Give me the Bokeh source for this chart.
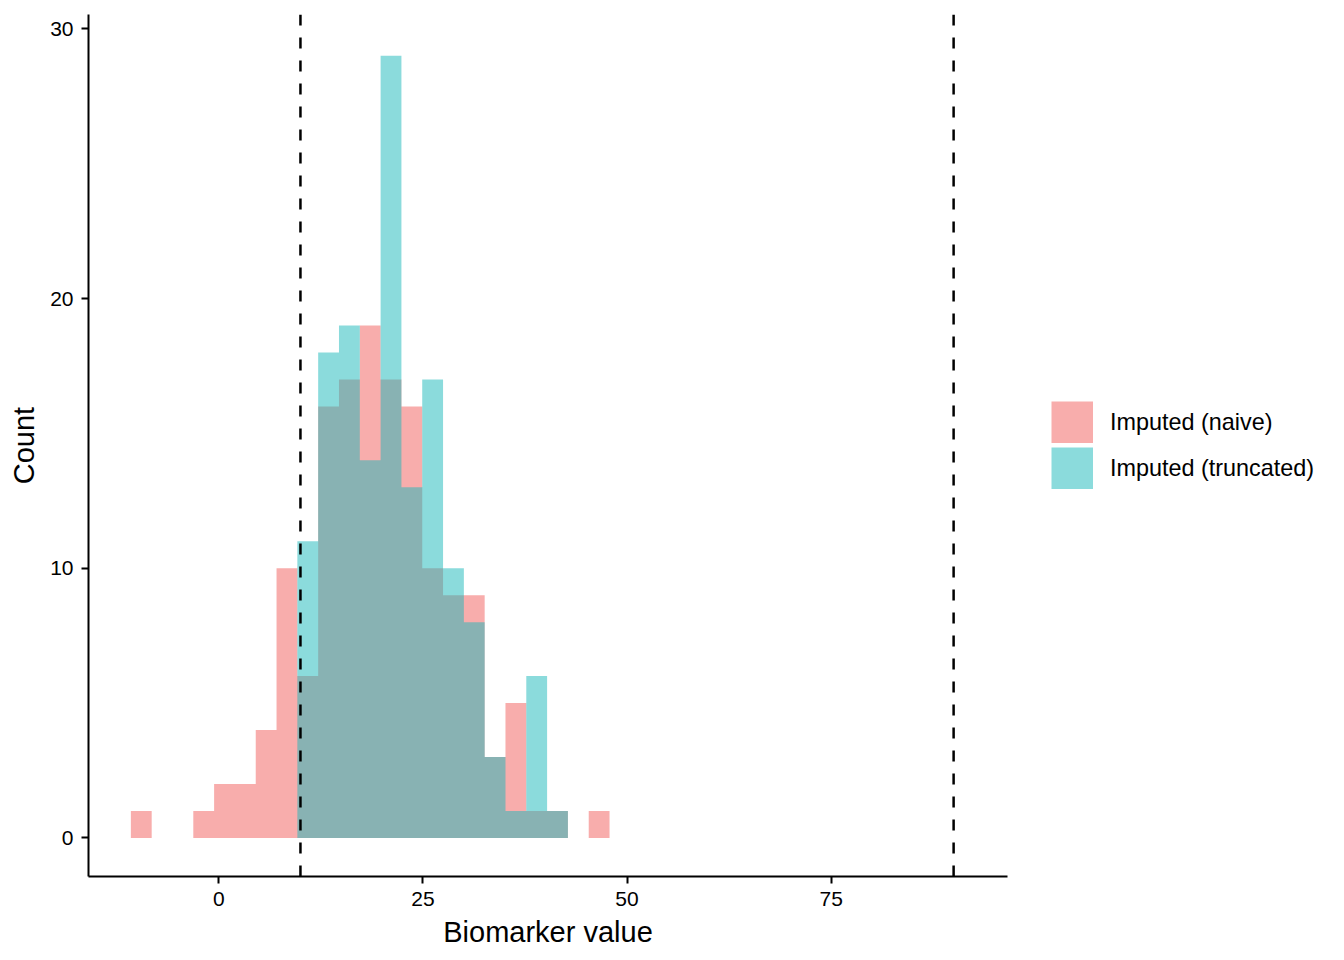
from bokeh.plotting import figure
from bokeh.models import Span, Legend, LegendItem, FixedTicker, Range1d
from bokeh.embed import file_html
from bokeh.resources import INLINE

# ---- data ----
bin_start = -10.77          # left edge of first histogram bin
bin_width = 2.549           # histogram bin width
naive_counts = [1, 0, 0, 1, 2, 2, 4, 10, 6, 16, 17, 19, 17, 16, 10, 9, 9, 3, 5, 1, 1, 0, 1]
truncated_counts = [0, 0, 0, 0, 0, 0, 0, 0, 11, 18, 19, 14, 29, 13, 17, 10, 8, 3, 1, 6, 1, 0, 0]
cutoffs = [10, 90]
x_ticks = [0, 25, 50, 75]
y_ticks = [0, 10, 20, 30]
series_labels = ["Imputed (naive)", "Imputed (truncated)"]
x_title = "Biomarker value"
y_title = "Count"

FONT = "Liberation Sans"
NAIVE_COLOR = "#F15B59"
TRUNC_COLOR = "#17B7B9"
ALPHA = 0.5
NAN = float("nan")


def step_outline(counts):
    """Histogram outline (as one polygon) from bin edges and counts."""
    xs, ys = [bin_start], [0]
    for i, c in enumerate(counts):
        left = bin_start + i * bin_width
        xs += [left, left + bin_width]
        ys += [c, c]
    xs.append(bin_start + len(counts) * bin_width)
    ys.append(0)
    return xs, ys


p = figure(
    output_backend="svg", toolbar_location=None,
    frame_width=919, frame_height=862,
    min_border_left=88, min_border_right=337, min_border_top=14, min_border_bottom=84,
    x_range=Range1d(-15.96, 96.6), y_range=Range1d(-1.43, 30.53),
    background_fill_color="white", border_fill_color="white",
)
p.outline_line_color = None
p.grid.visible = False

nx, ny = step_outline(naive_counts)
tx, ty = step_outline(truncated_counts)
p.patch(x=nx, y=ny, fill_color=NAIVE_COLOR, fill_alpha=ALPHA, line_color=None)
p.patch(x=tx, y=ty, fill_color=TRUNC_COLOR, fill_alpha=ALPHA, line_color=None)

# legend keys: thick butt-capped lines (no visible data) give full-size square keys
k_naive = p.line(x=[NAN, NAN], y=[NAN, NAN], line_color=NAIVE_COLOR, line_alpha=ALPHA, line_width=42)
k_trunc = p.line(x=[NAN, NAN], y=[NAN, NAN], line_color=TRUNC_COLOR, line_alpha=ALPHA, line_width=42)

for c in cutoffs:
    p.add_layout(Span(location=c, dimension="height", line_color="black",
                      line_width=2.5, line_dash="11 12"))

p.xaxis.ticker = FixedTicker(ticks=x_ticks)
p.yaxis.ticker = FixedTicker(ticks=y_ticks)
for ax in (p.xaxis[0], p.yaxis[0]):
    ax.axis_line_width = 2
    ax.axis_line_color = "black"
    ax.major_tick_line_width = 2
    ax.major_tick_line_color = "black"
    ax.major_tick_out = 7
    ax.major_tick_in = 0
    ax.minor_tick_line_color = None
    ax.major_label_text_font = FONT
    ax.major_label_text_font_size = "21px"
    ax.major_label_text_color = "black"
    ax.axis_label_text_font = FONT
    ax.axis_label_text_font_size = "29px"
    ax.axis_label_text_font_style = "normal"
    ax.axis_label_text_color = "black"

p.xaxis.axis_label = x_title
p.yaxis.axis_label = y_title
p.xaxis.major_label_standoff = 8
p.xaxis.axis_label_standoff = 7
p.yaxis.major_label_standoff = 8
p.yaxis.axis_label_standoff = 7

legend = Legend(
    items=[LegendItem(label=series_labels[0], renderers=[k_naive]),
           LegendItem(label=series_labels[1], renderers=[k_trunc])],
    location=(44, 387),
    glyph_width=42, glyph_height=42, spacing=4, label_standoff=17,
    padding=0, margin=0,
    border_line_alpha=0, background_fill_alpha=0,
    label_text_font=FONT, label_text_font_size="23.4px", label_text_color="black",
)
p.add_layout(legend, "right")

open("out.html", "w").write(file_html(p, INLINE))
